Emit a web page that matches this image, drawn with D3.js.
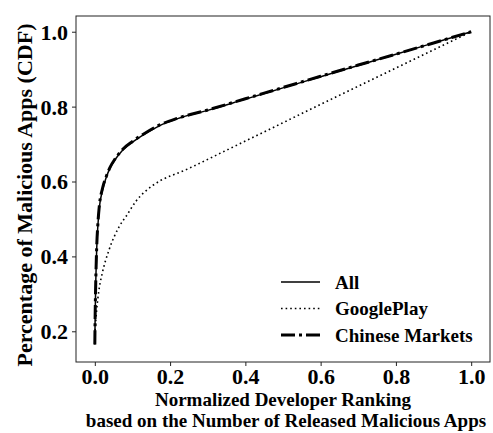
<!DOCTYPE html>
<html>
<head>
<meta charset="utf-8">
<script src="https://cdn.jsdelivr.net/npm/d3@7"></script>
<style>
  body { margin: 0; background: #fff; }
  text { font-family: "Liberation Serif", "DejaVu Serif", serif; font-weight: bold; fill: #000; }
</style>
</head>
<body>
<script>
// CDF curves
var allX = [0, 0.001, 0.003, 0.005, 0.008, 0.012, 0.02, 0.03, 0.04, 0.055, 0.075, 0.1, 0.13, 0.17, 0.22, 0.3, 0.4, 0.5, 0.6, 0.7, 0.8, 0.9, 1];
var allY = [0.165, 0.25, 0.35, 0.42, 0.48, 0.53, 0.575, 0.61, 0.635, 0.66, 0.685, 0.705, 0.725, 0.748, 0.768, 0.79, 0.82, 0.85, 0.88, 0.91, 0.94, 0.97, 1];

var gpX = [0, 0.001, 0.005, 0.011, 0.02, 0.038, 0.065, 0.085, 0.109, 0.13, 0.152, 0.25, 0.4, 0.6, 0.8, 1];
var gpY = [0.19, 0.205, 0.258, 0.31, 0.356, 0.418, 0.48, 0.51, 0.547, 0.57, 0.588, 0.635, 0.708, 0.806, 0.903, 1];

var cnX = [0, 0.001, 0.003, 0.005, 0.008, 0.012, 0.02, 0.03, 0.04, 0.055, 0.075, 0.1, 0.13, 0.17, 0.22, 0.3, 0.4, 0.5, 0.6, 0.7, 0.8, 0.9, 1];
var cnY = [0.165, 0.25, 0.355, 0.425, 0.485, 0.535, 0.58, 0.612, 0.637, 0.662, 0.687, 0.707, 0.727, 0.75, 0.769, 0.791, 0.821, 0.851, 0.881, 0.911, 0.94, 0.97, 1];

var xTicks = [0, 0.2, 0.4, 0.6, 0.8, 1.0];
var yTicks = [0.2, 0.4, 0.6, 0.8, 1.0];
var seriesNames = ["All", "GooglePlay", "Chinese Markets"];

var W = 493, H = 433;
var mLeft = 76, mRight = 490, mTop = 16, mBottom = 362;

var svg = d3.select("body").append("svg")
  .attr("width", W)
  .attr("height", H);

var x = d3.scaleLinear().domain([-0.05, 1.05]).range([mLeft, mRight]);
var y = d3.scaleLinear().domain([0.118, 1.042]).range([mBottom, mTop]);

function zip(xs, ys) {
  return xs.map((v, i) => [v, ys[i]]);
}

var line = d3.line()
  .x(d => x(d[0]))
  .y(d => y(d[1]))
  .curve(d3.curveMonotoneX);

var series = [
  { name: seriesNames[0], pts: zip(allX, allY), width: 1.5, dash: null },
  { name: seriesNames[1], pts: zip(gpX, gpY), width: 1.6, dash: "1.6,3" },
  { name: seriesNames[2], pts: zip(cnX, cnY), width: 3, dash: "14,4,3,4" }
];

series.forEach(function (s) {
  svg.append("path")
    .datum(s.pts)
    .attr("d", line)
    .attr("fill", "none")
    .attr("stroke", "#000")
    .attr("stroke-width", s.width)
    .attr("stroke-dasharray", s.dash);
});

// frame
svg.append("rect")
  .attr("x", mLeft).attr("y", mTop)
  .attr("width", mRight - mLeft).attr("height", mBottom - mTop)
  .attr("fill", "none").attr("stroke", "#222").attr("stroke-width", 1);

// axes
var xAxis = svg.append("g")
  .attr("transform", "translate(0," + mBottom + ")")
  .call(d3.axisBottom(x).tickValues(xTicks).tickFormat(d3.format(".1f")).tickSize(4).tickPadding(3));
var yAxis = svg.append("g")
  .attr("transform", "translate(" + mLeft + ",0)")
  .call(d3.axisLeft(y).tickValues(yTicks).tickFormat(d3.format(".1f")).tickSize(4).tickPadding(4));

[xAxis, yAxis].forEach(function (g) {
  g.select(".domain").remove();
  g.selectAll("text").style("font-size", "22px").attr("fill", "#000");
  g.selectAll("line").attr("stroke", "#222");
});
xAxis.selectAll("text").attr("dy", "0.68em");
yAxis.selectAll("text").attr("dy", "0.34em");

// axis labels
svg.append("text")
  .attr("transform", "translate(32,195) rotate(-90)")
  .attr("text-anchor", "middle")
  .style("font-size", "22px")
  .text("Percentage of Malicious Apps (CDF)");

svg.append("text")
  .attr("x", (mLeft + mRight) / 2)
  .attr("y", 406)
  .attr("text-anchor", "middle")
  .style("font-size", "19px")
  .text("Normalized Developer Ranking");
svg.append("text")
  .attr("x", (mLeft + mRight) / 2 + 3)
  .attr("y", 427)
  .attr("text-anchor", "middle")
  .style("font-size", "19px")
  .text("based on the Number of Released Malicious Apps");

// legend
var legend = svg.append("g");
series.forEach(function (s, i) {
  var ly = 282 + i * 26.5;
  legend.append("line")
    .attr("x1", 281).attr("x2", 320)
    .attr("y1", ly).attr("y2", ly)
    .attr("stroke", "#000")
    .attr("stroke-width", s.width)
    .attr("stroke-dasharray", s.dash);
  legend.append("text")
    .attr("x", 335).attr("y", ly)
    .attr("dy", "0.35em")
    .style("font-size", "19px")
    .text(s.name);
});
</script>
</body>
</html>
